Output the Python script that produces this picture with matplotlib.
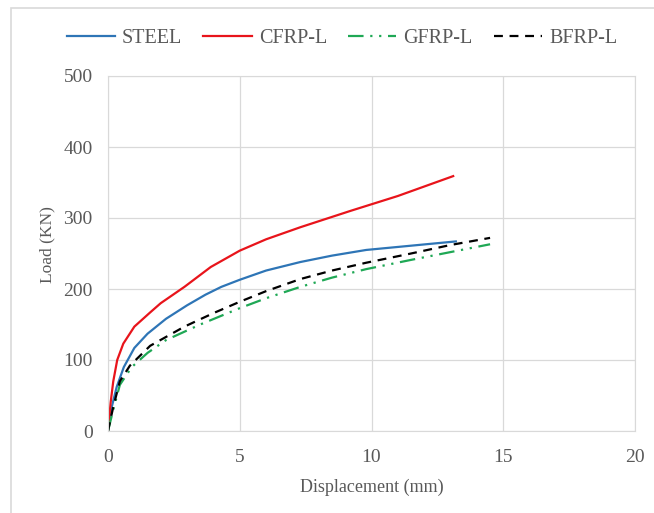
import matplotlib.pyplot as plt
from matplotlib.patches import Rectangle

plt.rcParams['font.family'] = ['Liberation Serif', 'DejaVu Serif']

#load-displacement data
steel_x = [0, 0.15, 0.33, 0.6, 1.0, 1.5, 2.2, 3.0, 3.7, 4.3, 5.0, 6.0, 7.3, 8.5, 9.8, 11.5, 13.2]
steel_y = [0, 35, 62, 90, 117, 137, 158, 177, 192, 203, 213, 226, 238, 247, 255, 261, 267]

cfrp_x = [0, 0.1, 0.2, 0.35, 0.58, 1.0, 1.6, 2.0, 2.9, 3.9, 5.0, 6.0, 7.3, 9.2, 11.0, 13.1]
cfrp_y = [0, 40, 70, 100, 123, 147, 167, 180, 203, 231, 254, 270, 287, 310, 331, 359]

gfrp_x = [0, 0.2, 0.45, 0.9, 1.5, 2.2, 3.5, 5.0, 6.0, 7.3, 8.5, 9.8, 11.5, 13.0, 14.5]
gfrp_y = [0, 30, 65, 90, 110, 128, 150, 173, 187, 203, 216, 228, 241, 252, 263]

bfrp_x = [0, 0.2, 0.45, 0.83, 1.6, 2.9, 4.0, 5.0, 6.0, 7.3, 8.5, 9.8, 11.5, 13.0, 14.5]
bfrp_y = [0, 34, 70, 92, 120, 147, 166, 182, 197, 214, 226, 237, 250, 262, 272]

x_ticks = [0, 5, 10, 15, 20]
y_ticks = [0, 100, 200, 300, 400, 500]

text_color = '#595959'
grid_color = '#D9D9D9'

fig = plt.figure(figsize=(6.54, 5.13), dpi=100)

#light frame around the chart
fig.patches.append(Rectangle((11/654, -0.05), 1.2, 1-8/513+0.05, transform=fig.transFigure,
                             fill=False, edgecolor='#D9D9D9', linewidth=1.2))

ax = fig.add_axes([108/654, 82/513, 527/654, 355/513])

ax.plot(steel_x, steel_y, color='#2E75B6', linewidth=1.6, label='STEEL')
ax.plot(cfrp_x, cfrp_y, color='#E8141B', linewidth=1.6, label='CFRP-L')
ax.plot(gfrp_x, gfrp_y, color='#1FA855', linewidth=1.6, dashes=(7, 3, 1, 3, 1, 3), label='GFRP-L')
ax.plot(bfrp_x, bfrp_y, color='black', linewidth=1.6, dashes=(4, 3), label='BFRP-L')

ax.set_xlim(0, 20)
ax.set_ylim(0, 500)
ax.set_xticks(x_ticks)
ax.set_yticks(y_ticks)
ax.grid(True, color=grid_color, linewidth=0.9)
ax.set_axisbelow(True)

for spine in ax.spines.values():
    spine.set_color(grid_color)

ax.tick_params(length=0, labelsize=14, colors=text_color)
ax.tick_params(axis='y', pad=11)
ax.tick_params(axis='x', pad=13)

ax.set_xlabel('Displacement (mm)', fontsize=13, color=text_color)
ax.set_ylabel('Load (KN)', fontsize=12.5, color=text_color)
ax.xaxis.set_label_coords(0.5, -0.135)
ax.yaxis.set_label_coords(-0.1, 0.524)

fig.legend(loc='center', bbox_to_anchor=(342/654, 1-38/513), ncol=4, frameon=False,
           fontsize=14.5, handlelength=2.4, columnspacing=1.05, handletextpad=0.35,
           labelcolor=text_color)

fig.savefig('out.png', dpi=100)
